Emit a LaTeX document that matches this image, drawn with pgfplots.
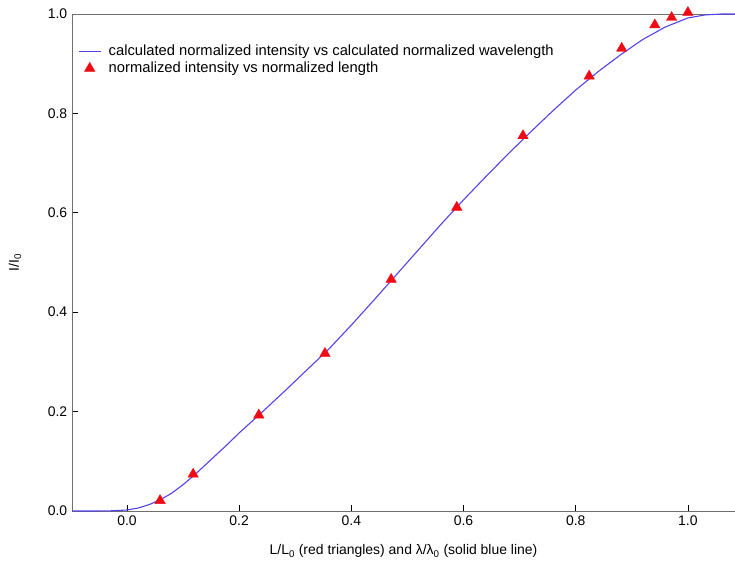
\documentclass[border=0pt]{standalone}
\usepackage{pgfplots}
\pgfplotsset{compat=1.18}
\usepackage{fontspec}
\setmainfont{Liberation Sans}
\definecolor{curveblue}{RGB}{85,65,235}
\definecolor{trired}{RGB}{240,10,20}
\definecolor{spine}{RGB}{110,110,110}
\begin{document}
\fontsize{14}{16}\selectfont
\begin{tikzpicture}
\begin{axis}[
  name=ax,
  scale only axis,
  width=663bp, height=497bp,
  xmin=-0.098, xmax=1.084,
  ymin=0, ymax=1.0,
  axis x line=box, axis y line=left,
  axis line style={-, spine, line width=0.8pt},
  xtick={0,0.2,0.4,0.6,0.8,1.0},
  ytick={0,0.2,0.4,0.6,0.8,1.0},
  xtick pos=bottom, ytick pos=left,
  tick align=inside,
  major tick length=6bp,
  tick style={black, line width=0.6pt},
  /pgf/number format/assume math mode=true,
  xticklabel style={/pgf/number format/fixed, /pgf/number format/fixed zerofill, /pgf/number format/precision=1},
  yticklabel style={/pgf/number format/fixed, /pgf/number format/fixed zerofill, /pgf/number format/precision=1},
  xlabel={L/L\textsubscript{0} (red triangles) and λ/λ\textsubscript{0} (solid blue line)},
  ylabel={I/I\textsubscript{0}},
  xlabel style={at={(axis description cs:0.5,0)}, anchor=north, yshift=-29bp},
  ylabel style={at={(axis description cs:-0.086,0.5)}, anchor=center},
  legend style={draw=none, fill=none, at={(axis description cs:0,1)}, anchor=north west, xshift=3bp, yshift=-27bp, row sep=0bp, font=\fontsize{14.8}{17}\selectfont},
  legend cell align=left,
  legend image code/.code={\path[draw=none,fill=none] (0bp,0bp) (28bp,0bp); \draw[mark repeat=2,mark phase=2,#1] plot coordinates {(0bp,0bp) (11bp,0bp) (22bp,0bp)};},
  clip=false,
]
\addplot[curveblue, line width=1.1pt, no marks] coordinates {
(-0.098,0) (-0.06,0) (-0.03,0.0003) (0.0,0.002) (0.02,0.006) (0.04,0.013)
(0.06,0.023) (0.08,0.036) (0.10,0.053) (0.12,0.072) (0.14,0.093) (0.16,0.114)
(0.18,0.135) (0.20,0.157) (0.24,0.198) (0.28,0.240) (0.32,0.283) (0.36,0.326)
(0.40,0.374) (0.44,0.424) (0.48,0.475) (0.52,0.526) (0.56,0.577) (0.60,0.626)
(0.64,0.673) (0.68,0.719) (0.72,0.763) (0.76,0.806) (0.80,0.847) (0.84,0.884)
(0.88,0.918) (0.92,0.949) (0.96,0.974) (1.00,0.992) (1.03,0.998) (1.06,1.0) (1.084,1.0)
};
\addlegendentry{calculated normalized intensity vs calculated normalized wavelength}
\addplot[only marks, mark=triangle*, mark size=6bp, trired, mark options={fill=trired, draw=trired}] coordinates {
(0.059,0.021) (0.118,0.074) (0.235,0.193) (0.353,0.317) (0.471,0.466) (0.588,0.611)
(0.706,0.755) (0.824,0.875) (0.882,0.931) (0.941,0.978) (0.971,0.993) (1.0,1.003)
};
\addlegendentry{normalized intensity vs normalized length}
\end{axis}
\pgfresetboundingbox
\path (ax.south west) ++(-72bp,-56bp) rectangle ++(735bp,567bp);
\end{tikzpicture}
\end{document}
